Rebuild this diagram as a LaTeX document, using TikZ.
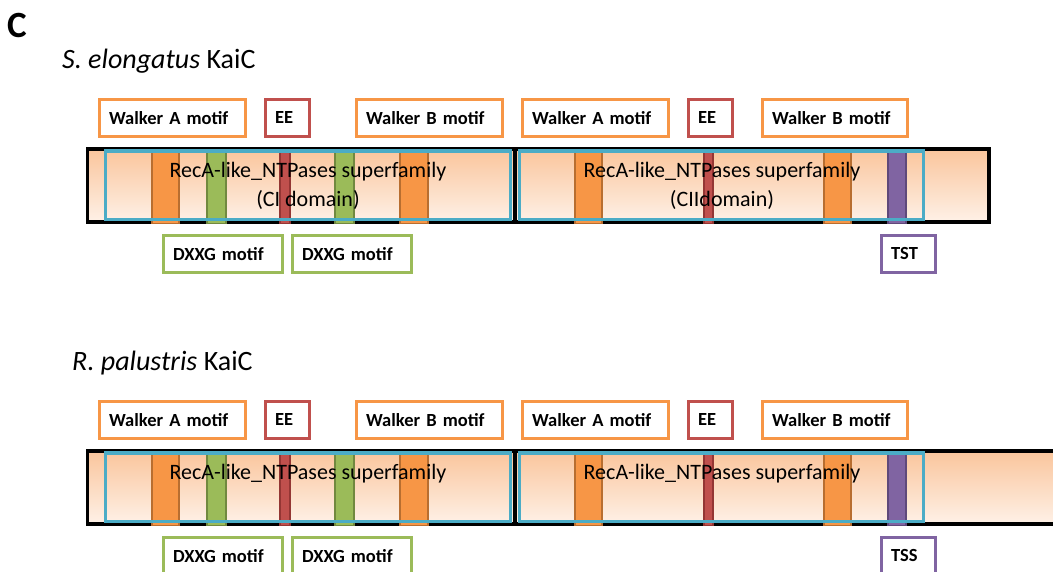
\documentclass[tikz,border=0pt]{standalone}
\usepackage{fontspec}
\setmainfont{Carlito}
\usetikzlibrary{positioning}

\definecolor{motOrange}{HTML}{F79646}
\definecolor{motOrangeD}{HTML}{B86E30}
\definecolor{motRed}{HTML}{C0504D}
\definecolor{motRedD}{HTML}{943634}
\definecolor{motGreen}{HTML}{9BBB59}
\definecolor{motGreenD}{HTML}{71893F}
\definecolor{motPurple}{HTML}{8064A2}
\definecolor{motPurpleD}{HTML}{5F497A}
\definecolor{domBlue}{HTML}{4BACC6}
\definecolor{barTop}{HTML}{FAC59C}
\definecolor{barBot}{HTML}{FEF1E7}

\begin{document}
\begin{tikzpicture}[x=1pt, y=-1pt,
    motivo/.style={draw, line width=3.2pt, fill=white, anchor=north west,
      font=\fontsize{18.5}{20}\selectfont\bfseries, align=left,
      inner xsep=10pt, inner ysep=0pt, minimum height=37pt},
    barra/.style={draw=black, line width=3.2pt, top color=barTop, bottom color=barBot},
    dominio/.style={draw=domBlue, line width=3.4pt},
    banda/.style={line width=1.8pt},
    titulo/.style={anchor=base west, inner sep=0pt, font=\fontsize{28}{30}\selectfont},
    texto/.style={anchor=base, inner sep=0pt, font=\fontsize{22}{26}\selectfont}]

  \clip (0,0) rectangle (1053,571);

  % Titulos
  \node[anchor=base west, inner sep=0pt, font=\fontsize{37}{40}\selectfont\bfseries] (panel) at (7,37) {C};
  \node[titulo] (tit1) at (62,68) {\textit{S. elongatus} KaiC};
  \node[titulo] (tit2) at (72,370) {\textit{R. palustris} KaiC};

  % Fila 1: barras
  \draw[barra] (87.5,149) rectangle (515,222);
  \draw[barra] (515,149) rectangle (989,222);

  % Fila 1: bandas
  \draw[banda, fill=motOrange, draw=motOrangeD] (151.9,150) rectangle (179.1,223.5);
  \draw[banda, fill=motGreen, draw=motGreenD] (206.9,150) rectangle (226.1,223.5);
  \draw[banda, fill=motRed, draw=motRedD] (279.9,150) rectangle (290.1,223.5);
  \draw[banda, fill=motGreen, draw=motGreenD] (334.9,150) rectangle (354.1,223.5);
  \draw[banda, fill=motOrange, draw=motOrangeD] (399.9,150) rectangle (428.1,223.5);
  \draw[banda, fill=motOrange, draw=motOrangeD] (574.9,150) rectangle (602.1,223.5);
  \draw[banda, fill=motRed, draw=motRedD] (703.9,150) rectangle (713.1,223.5);
  \draw[banda, fill=motOrange, draw=motOrangeD] (823.9,150) rectangle (851.1,223.5);
  \draw[banda, fill=motPurple, draw=motPurpleD] (887.9,150) rectangle (906.1,223.5);

  % Fila 1: dominios
  \draw[dominio] (105.7,151) rectangle (510.3,219.5);
  \draw[dominio] (519.7,151) rectangle (923.3,219.5);
  \node[texto] (rec1) at (308,177) {RecA-like\_NTPases superfamily};
  \node[texto] (ci1) at (308,206) {(CI domain)};
  \node[texto] (rec2) at (722,177) {RecA-like\_NTPases superfamily};
  \node[texto] (cii2) at (722,206) {(CIIdomain)};

  % Fila 1: motivos
  \node[motivo, draw=motOrange, text width=126pt] (wa1) at (97.5,97.5) {Walker A motif};
  \node[motivo, draw=motRed, text width=24pt] (ee1) at (263.5,97.5) {EE};
  \node[motivo, draw=motOrange, text width=126pt] (wb1) at (354.5,97.5) {Walker B motif};
  \node[motivo, draw=motOrange, text width=126pt] (wa2) at (520.5,97.5) {Walker A motif};
  \node[motivo, draw=motRed, text width=24pt] (ee2) at (686.5,97.5) {EE};
  \node[motivo, draw=motOrange, text width=125pt] (wb2) at (760.5,97.5) {Walker B motif};
  \node[motivo, draw=motGreen, text width=99pt] (dx1) at (161.5,233.5) {DXXG motif};
  \node[motivo, draw=motGreen, text width=99pt] (dx2) at (290.5,233.5) {DXXG motif};
  \node[motivo, draw=motPurple, text width=34pt] (tst) at (879.5,233.5) {TST};

  % Fila 2: barras
  \draw[barra] (87.5,451) rectangle (515,524);
  \draw[barra] (515,451) rectangle (1070,524);

  % Fila 2: bandas
  \draw[banda, fill=motOrange, draw=motOrangeD] (151.9,452) rectangle (179.1,525.5);
  \draw[banda, fill=motGreen, draw=motGreenD] (206.9,452) rectangle (226.1,525.5);
  \draw[banda, fill=motRed, draw=motRedD] (279.9,452) rectangle (290.1,525.5);
  \draw[banda, fill=motGreen, draw=motGreenD] (334.9,452) rectangle (354.1,525.5);
  \draw[banda, fill=motOrange, draw=motOrangeD] (399.9,452) rectangle (428.1,525.5);
  \draw[banda, fill=motOrange, draw=motOrangeD] (574.9,452) rectangle (602.1,525.5);
  \draw[banda, fill=motRed, draw=motRedD] (703.9,452) rectangle (713.1,525.5);
  \draw[banda, fill=motOrange, draw=motOrangeD] (823.9,452) rectangle (851.1,525.5);
  \draw[banda, fill=motPurple, draw=motPurpleD] (887.9,452) rectangle (906.1,525.5);

  % Fila 2: dominios
  \draw[dominio] (105.7,453) rectangle (510.3,521.5);
  \draw[dominio] (519.7,453) rectangle (923.3,521.5);
  \node[texto] (rec3) at (308,479) {RecA-like\_NTPases superfamily};
  \node[texto] (rec4) at (722,479) {RecA-like\_NTPases superfamily};

  % Fila 2: motivos
  \node[motivo, draw=motOrange, text width=126pt] (wa3) at (97.5,399.5) {Walker A motif};
  \node[motivo, draw=motRed, text width=24pt] (ee3) at (263.5,399.5) {EE};
  \node[motivo, draw=motOrange, text width=126pt] (wb3) at (354.5,399.5) {Walker B motif};
  \node[motivo, draw=motOrange, text width=126pt] (wa4) at (520.5,399.5) {Walker A motif};
  \node[motivo, draw=motRed, text width=24pt] (ee4) at (686.5,399.5) {EE};
  \node[motivo, draw=motOrange, text width=125pt] (wb4) at (760.5,399.5) {Walker B motif};
  \node[motivo, draw=motGreen, text width=99pt] (dx3) at (161.5,535.5) {DXXG motif};
  \node[motivo, draw=motGreen, text width=99pt] (dx4) at (290.5,535.5) {DXXG motif};
  \node[motivo, draw=motPurple, text width=34pt] (tss) at (879.5,535.5) {TSS};
\end{tikzpicture}
\end{document}
